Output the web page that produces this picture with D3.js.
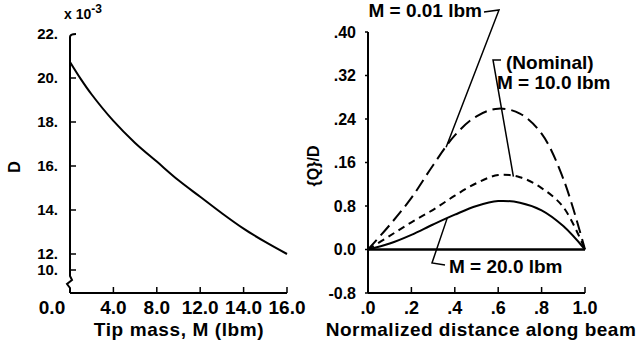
<!DOCTYPE html>
<html>
<head>
<meta charset="utf-8">
<script src="https://cdn.jsdelivr.net/npm/d3@7"></script>
<style>
  body { margin: 0; background: #fff; }
  svg { display: block; }
  text { font-family: "Liberation Sans", Arial, Helvetica, sans-serif; font-weight: bold; fill: #000; }
</style>
</head>
<body>
<svg id="chart"></svg>
<script>
// left panel: D vs tip mass (x in tick-position units, labels as printed)
const tipMass = [0, 1, 2, 4, 6, 8, 10, 12, 14, 16, 18, 20];
const dValue = [20.73, 19.95, 19.25, 18.05, 17.05, 16.2, 15.35, 14.6, 13.85, 13.15, 12.55, 12.0];
const tipMassTicks = [0, 4, 8, 12, 16, 20];
const tipMassLabels = ['0.0', '4.0', '8.0', '12.0', '14.0', '16.0'];
const dTicks = [20, 18, 16, 14, 12, 10];
const dLabels = ['20.', '18.', '16.', '14.', '12.', '10.'];

// right panel: {Q}/D along the beam
const beamPos = [0, .1, .2, .3, .4, .5, .6, .7, .8, .9, 1.0];
const qLight = [0, .045, .095, .155, .21, .245, .259, .25, .213, .13, 0];      // M = 0.01 lbm
const qNominal = [0, .025, .05, .073, .099, .122, .137, .133, .113, .078, 0];  // M = 10.0 lbm
const qHeavy = [0, .011, .027, .046, .064, .08, .089, .086, .072, .043, 0];    // M = 20.0 lbm
const beamTicks = [0, .2, .4, .6, .8, 1.0];
const beamLabels = ['.0', '.2', '.4', '.6', '.8', '1.0'];
const qTicks = [.40, .32, .24, .16, .08, 0, -.08];
const qLabels = ['.40', '.32', '.24', '.16', '0.8', '0.0', '-0.8'];

const W = 640, H = 343;
const svg = d3.select('#chart').attr('width', W).attr('height', H);

const at = (xs, ys, x) => d3.scaleLinear().domain(xs).range(ys)(x);

// ---------- left panel ----------
const xL = d3.scaleLinear().domain([0, 20]).range([70, 287]);
// 10 sits below an axis break
const yL = d3.scaleLinear().domain([10, 12, 22]).range([270, 254, 34]);
const baseL = 293;
const left = svg.append('g');

left.append('path')
    .attr('d', `M${xL(0)},${baseL} V288 L${xL(0) - 3},284 L${xL(0) + 2},280 L${xL(0)},276 V${yL(22) + 3} Q${xL(0)},${yL(22)} ${xL(0) + 6},${yL(22)}`)
    .attr('fill', 'none').attr('stroke', '#000').attr('stroke-width', 2);

left.append('line')
    .attr('x1', xL(0)).attr('x2', xL(20)).attr('y1', baseL).attr('y2', baseL)
    .attr('stroke', '#000').attr('stroke-width', 2);

left.selectAll('.ytick').data(dTicks).join('line')
    .attr('x1', xL(0)).attr('x2', xL(0) + 6)
    .attr('y1', d => yL(d)).attr('y2', d => yL(d))
    .attr('stroke', '#000').attr('stroke-width', 1.5);

left.selectAll('.ylab').data([22].concat(dTicks)).join('text')
    .attr('x', 58).attr('y', d => yL(d)).attr('dy', '0.36em')
    .attr('text-anchor', 'end').style('font-size', '15px')
    .text((d, i) => ['22.'].concat(dLabels)[i]);

left.selectAll('.xtick').data(tipMassTicks.slice(1)).join('line')
    .attr('x1', d => xL(d)).attr('x2', d => xL(d))
    .attr('y1', baseL).attr('y2', baseL - 6)
    .attr('stroke', '#000').attr('stroke-width', 1.5);

left.selectAll('.xlab').data(tipMassTicks).join('text')
    .attr('x', d => xL(d)).attr('dx', (d, i) => i === 0 ? -18 : 0)
    .attr('y', 314).attr('text-anchor', 'middle').style('font-size', '19px')
    .text((d, i) => tipMassLabels[i]);

left.append('path')
    .datum(tipMass.map((m, i) => [m, dValue[i]]))
    .attr('d', d3.line().x(d => xL(d[0])).y(d => yL(d[1])).curve(d3.curveCatmullRom))
    .attr('fill', 'none').attr('stroke', '#000').attr('stroke-width', 2);

const scaleNote = left.append('text').attr('x', 64).attr('y', 19).style('font-size', '14px');
scaleNote.append('tspan').text('x 10');
scaleNote.append('tspan').attr('dy', -6).style('font-size', '12px').text('-3');

left.append('text')
    .attr('transform', 'translate(20,167) rotate(-90)')
    .attr('text-anchor', 'middle').style('font-size', '16px').text('D');

left.append('text')
    .attr('x', 179).attr('y', 336).attr('text-anchor', 'middle')
    .style('font-size', '19px').style('letter-spacing', '0.6px').text('Tip mass, M (lbm)');

// ---------- right panel ----------
const xR = d3.scaleLinear().domain([0, 1]).range([368, 585]);
const yR = d3.scaleLinear().domain([-0.08, 0.40]).range([293, 32]);
const right = svg.append('g');

right.append('line')
    .attr('x1', xR(0)).attr('x2', xR(0)).attr('y1', yR(-0.08)).attr('y2', yR(0.40))
    .attr('stroke', '#000').attr('stroke-width', 2);
right.append('line')
    .attr('x1', xR(0)).attr('x2', xR(1)).attr('y1', yR(-0.08)).attr('y2', yR(-0.08))
    .attr('stroke', '#000').attr('stroke-width', 2);
right.append('line')
    .attr('x1', xR(0)).attr('x2', xR(1)).attr('y1', yR(0)).attr('y2', yR(0))
    .attr('stroke', '#000').attr('stroke-width', 2.5);

right.selectAll('.ytick').data(qTicks).join('line')
    .attr('x1', xR(0) - 3).attr('x2', xR(0))
    .attr('y1', d => yR(d)).attr('y2', d => yR(d))
    .attr('stroke', '#000').attr('stroke-width', 1.5);

right.selectAll('.ylab').data(qTicks).join('text')
    .attr('x', 356).attr('y', d => yR(d)).attr('dy', '0.36em')
    .attr('text-anchor', 'end').style('font-size', '16px')
    .text((d, i) => qLabels[i]);

right.selectAll('.xtick').data(beamTicks.slice(1)).join('line')
    .attr('x1', d => xR(d)).attr('x2', d => xR(d))
    .attr('y1', yR(-0.08)).attr('y2', yR(-0.08) - 6)
    .attr('stroke', '#000').attr('stroke-width', 1.5);

right.selectAll('.xlab').data(beamTicks).join('text')
    .attr('x', d => xR(d)).attr('y', 314)
    .attr('text-anchor', 'middle').style('font-size', '18px')
    .text((d, i) => beamLabels[i]);

const qLine = d3.line().x(d => xR(d[0])).y(d => yR(d[1])).curve(d3.curveCatmullRom);
const series = [
  {values: qLight, dash: '13,6'},
  {values: qNominal, dash: '7,5'},
  {values: qHeavy, dash: null}
];
right.selectAll('.curve').data(series).join('path')
    .attr('d', s => qLine(beamPos.map((x, i) => [x, s.values[i]])))
    .attr('fill', 'none').attr('stroke', '#000').attr('stroke-width', 2)
    .attr('stroke-dasharray', s => s.dash);

// annotation leaders, anchored on the curves
const lead = pts => right.append('path')
    .attr('d', d3.line()(pts)).attr('fill', 'none')
    .attr('stroke', '#000').attr('stroke-width', 1.5);

lead([[484, 12], [499, 10], [xR(.36), yR(at(beamPos, qLight, .36))]]);
right.append('text').attr('x', 482).attr('y', 17).attr('text-anchor', 'end')
    .style('font-size', '19px').text('M = 0.01 lbm');

lead([[501, 60], [493, 60], [xR(.67), yR(at(beamPos, qNominal, .67))]]);
right.append('text').attr('x', 506).attr('y', 69).style('font-size', '19px').text('(Nominal)');
right.append('text').attr('x', 497).attr('y', 89).style('font-size', '19px').text('M = 10.0 lbm');

lead([[xR(.365), yR(at(beamPos, qHeavy, .365))], [432, 263], [445, 265]]);
right.append('text').attr('x', 449).attr('y', 273).style('font-size', '19px').text('M = 20.0 lbm');

right.append('text')
    .attr('transform', 'translate(319,166) rotate(-90)')
    .attr('text-anchor', 'middle').style('font-size', '16px').text('{Q}/D');

right.append('text')
    .attr('x', 481).attr('y', 336).attr('text-anchor', 'middle')
    .style('font-size', '19px').style('letter-spacing', '0.5px').text('Normalized distance along beam');
</script>
</body>
</html>
